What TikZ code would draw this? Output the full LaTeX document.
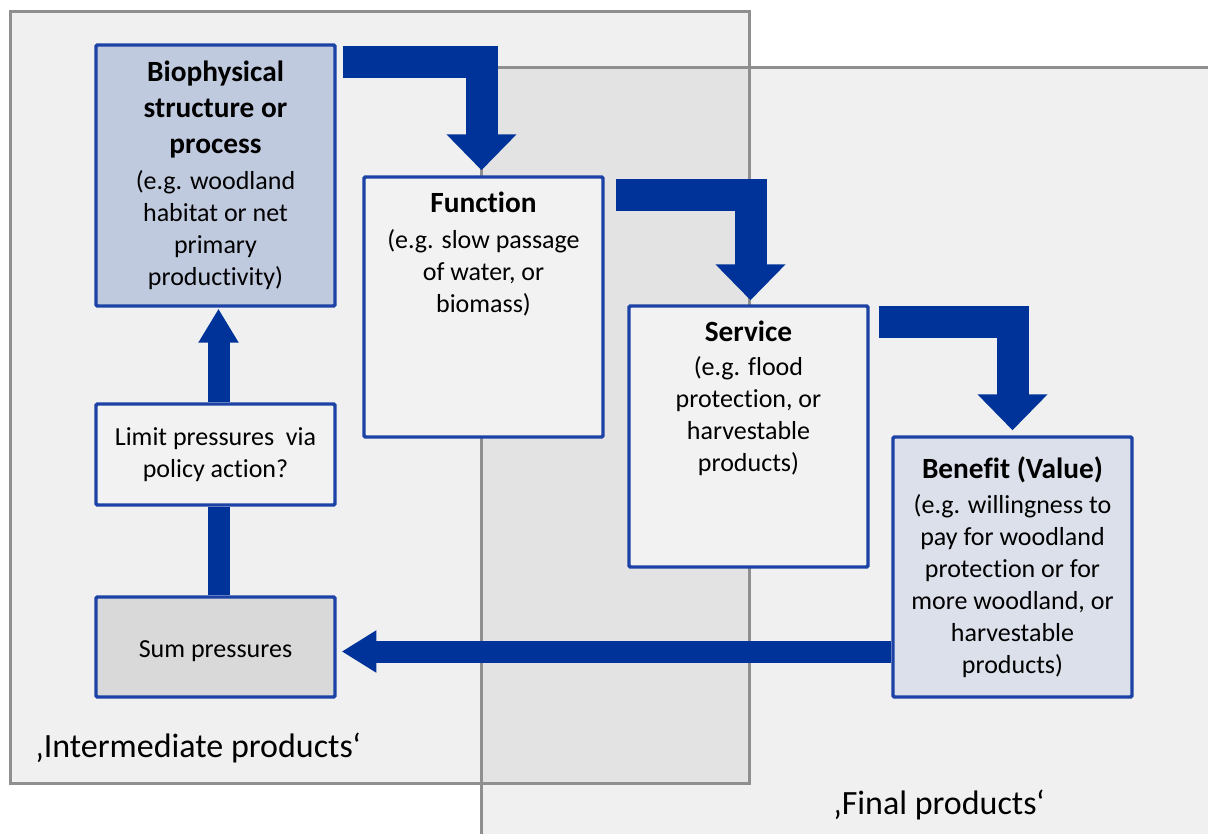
\documentclass[tikz,border=0pt]{standalone}
\usepackage{fontspec}
\setmainfont{Carlito}[Ligatures=NoCommon]
\usetikzlibrary{arrows.meta,calc}
\definecolor{arrowblue}{HTML}{003399}
\definecolor{boxline}{HTML}{1C42A6}
\definecolor{panelfill}{HTML}{F0F0F0}
\definecolor{overlapfill}{HTML}{E3E3E3}
\definecolor{panelline}{HTML}{8F8F8F}
\definecolor{biofill}{HTML}{C0CADF}
\definecolor{benfill}{HTML}{DCE0EA}
\definecolor{sumfill}{HTML}{D9D9D9}
\definecolor{plainfill}{HTML}{F2F2F2}
\newcommand\boxtitle[1]{{\bfseries\fontsize{22}{27}\selectfont #1}}
\begin{document}
\begin{tikzpicture}[x=0.75pt,y=-0.75pt,
  box/.style={draw=boxline, line width=2.6pt, rounded corners=1pt, inner sep=0pt, minimum width=179.25pt,
    align=center, font=\fontsize{19.5}{24}\selectfont},
  boxtext/.style={inner sep=0pt, align=center, font=\fontsize{19.5}{24}\selectfont},
  panel/.style={draw=panelline, line width=2.25pt},
  flowarrow/.style={draw=arrowblue, line width=24pt, line join=miter,
    -{Triangle[width=51pt,length=27pt]}},
  feedarrow/.style={draw=arrowblue, line width=16.5pt,
    -{Triangle[width=30pt,length=26pt]}},
  feedline/.style={draw=arrowblue, line width=16.5pt},
  panellabel/.style={inner sep=0pt, anchor=base west, font=\fontsize{25.5}{30}\selectfont}
]
\useasboundingbox (0,0) rectangle (1208,834);
\fill[white] (0,0) rectangle (1208,834);
\begin{scope}
\clip (0,0) rectangle (1208,834);
% panels
\filldraw[panel, fill=panelfill] (10,12) rectangle (749,783);
\filldraw[panel, fill=panelfill] (481,68) rectangle (1240,870);
\fill[overlapfill] (481,68) rectangle (749,783);
\draw[panel] (10,12) rectangle (749,783);
\draw[panel] (481,68) rectangle (1240,870);
\end{scope}

% labels
\node[panellabel] (intlab) at (35,757) {‚Intermediate products‘};
\node[panellabel] (finlab) at (833,814) {‚Final products‘};

% boxes
\node[box, fill=biofill, minimum height=195.75pt] (bio) at (215.5,175.5)
  {\boxtitle{Biophysical}\\[3pt] \boxtitle{structure or}\\[3pt] \boxtitle{process}\\[3pt]
   (e.g. woodland\\ habitat or net\\ primary\\ productivity)};
\node[box, fill=plainfill, minimum height=195pt] (func) at (483.5,307) {};
\node[boxtext, anchor=north] (functext) at ($(func.north)+(0,16)$)
  {\boxtitle{Function}\\[3pt] (e.g. slow passage\\ of water, or\\ biomass)};
\node[box, fill=plainfill, minimum height=195.75pt] (serv) at (748.5,436.5) {};
\node[boxtext, anchor=north] (servtext) at ($(serv.north)+(0,16)$)
  {\boxtitle{Service}\\[2pt] (e.g. flood\\ protection, or\\ harvestable\\ products)};
\node[box, fill=benfill, minimum height=195pt] (ben) at (1012.5,567)
  {\boxtitle{Benefit (Value)}\\[2pt] (e.g. willingness to\\ pay for woodland\\ protection or for\\ more woodland, or\\ harvestable\\ products)};
\node[box, fill=plainfill, minimum height=75.75pt] (lim) at (215.5,454.5)
  {Limit pressures\ \ via\\ policy action?};
\node[box, fill=sumfill, minimum height=75pt] (sum) at (215.5,647) {};
\node[boxtext] (sumtext) at ($(sum.center)+(0,4)$) {Sum pressures};

% flow arrows
\draw[flowarrow, shorten >=3.75pt] ($(bio.north east)+(6,19)$) -| ($(func.north)+(-2,0)$);
\draw[flowarrow, shorten >=3pt] ($(func.north east)+(11,20)$) -| ($(serv.north)+(2,0)$);
\draw[flowarrow, shorten >=3.75pt] ($(serv.north east)+(9,18)$) -| (ben.north);

% feedback
\coordinate (sumin) at ($(sum.east)+(5,4.5)$);
\draw[feedarrow] (ben.west |- sumin) -- (sumin);
\draw[feedline] ($(sum.north)+(3,0)$) -- ($(lim.south)+(3,0)$);
\draw[feedarrow, -{Triangle[width=28.5pt,length=25.5pt]}] ($(lim.north)+(3,0)$) -- ($(bio.south)+(3,1)$);
\end{tikzpicture}
\end{document}
